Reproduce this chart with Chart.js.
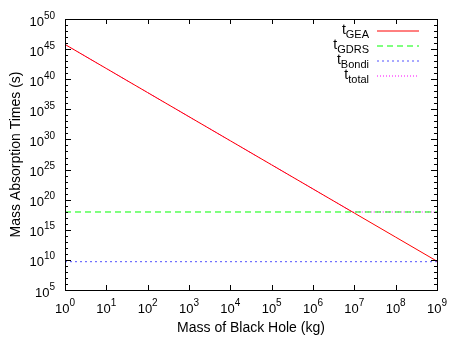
<!DOCTYPE html>
<html>
<head>
<meta charset="utf-8">
<script src="https://cdn.jsdelivr.net/npm/chart.js@4/dist/chart.umd.min.js"></script>
<style>
  body { margin: 0; background: #fff; }
  canvas { display: block; }
</style>
</head>
<body>
<canvas id="chart" width="450" height="338"></canvas>
<script>
// values (log-log)
const massKg = [1, 1e1, 1e2, 1e3, 1e4, 1e5, 1e6, 1e7, 1e8, 1e9];
const tGEA = [6e45, 6e41, 6e37, 6e33, 6e29, 6e25, 6e21, 6e17, 6e13, 6e9];
const flatMass = [1, 1e9];
const tGDRS = [9e17, 9e17];
const tBondi = [5e9, 5e9];
const totalMass = [1, 1e1, 1e2, 1e3, 1e4, 1e5, 1e6, 9e6, 1e7, 1e8, 1e9];
const tTotal = [6e45, 6e41, 6e37, 6e33, 6e29, 6e25, 6e21, 9e17, 9e17, 9e17, 9e17];
const seriesNames = ["GEA", "GDRS", "Bondi", "total"];

const xDecades = [0, 1, 2, 3, 4, 5, 6, 7, 8, 9];
const yExponents = [5, 10, 15, 20, 25, 30, 35, 40, 45, 50];

const lineColors = ["#ff0000", "#00ff00", "#5050ff", "#ff00ff"];
const lineDashes = [[], [6, 4], [2, 3], [1, 2]];

const FONT = "Liberation Sans, Arial, Helvetica, sans-serif";

function pts(xs, ys) {
  return xs.map((x, i) => ({ x: x, y: ys[i] }));
}

// "10" with a superscript exponent
function drawPow(ctx, exp, x, y, align) {
  ctx.font = "13px " + FONT;
  const wb = ctx.measureText("10").width;
  ctx.font = "10px " + FONT;
  const we = ctx.measureText(String(exp)).width;
  let x0 = x;
  if (align === "right") x0 = x - wb - we;
  if (align === "center") x0 = x - (wb + we) / 2;
  ctx.textAlign = "left";
  ctx.textBaseline = "alphabetic";
  ctx.font = "13px " + FONT;
  ctx.fillText("10", x0, y);
  ctx.font = "10px " + FONT;
  ctx.fillText(String(exp), x0 + wb, y - 7);
}

const framePlugin = {
  id: "frame",
  afterDraw(chart) {
    const { ctx, chartArea, scales } = chart;
    const { left, right, top, bottom } = chartArea;
    const xs = scales.x, ys = scales.y;
    ctx.save();
    ctx.strokeStyle = "#000";
    ctx.fillStyle = "#000";
    ctx.lineWidth = 1;
    ctx.strokeRect(left + 0.5, top + 0.5, right - left, bottom - top);

    // x ticks (inside, mirrored)
    ctx.beginPath();
    xDecades.forEach(d => {
      const px = Math.round(xs.getPixelForValue(Math.pow(10, d))) + 0.5;
      ctx.moveTo(px, bottom); ctx.lineTo(px, bottom - 5);
      ctx.moveTo(px, top); ctx.lineTo(px, top + 5);
    });
    // y ticks: major every 5 decades, minor each decade
    for (let e = 5; e <= 50; e++) {
      const py = Math.round(ys.getPixelForValue(Math.pow(10, e))) + 0.5;
      const len = e % 5 === 0 ? 6 : 3;
      ctx.moveTo(left, py); ctx.lineTo(left + len, py);
      ctx.moveTo(right, py); ctx.lineTo(right - len, py);
    }
    ctx.stroke();

    // tick labels
    xDecades.forEach(d => {
      const px = xs.getPixelForValue(Math.pow(10, d));
      drawPow(ctx, d, px, bottom + 23, "center");
    });
    yExponents.forEach(e => {
      const py = ys.getPixelForValue(Math.pow(10, e));
      drawPow(ctx, e, left - 10, py + 6.5, "right");
    });

    // axis titles
    ctx.font = "14px " + FONT;
    ctx.textAlign = "center";
    ctx.textBaseline = "alphabetic";
    ctx.fillText("Mass of Black Hole (kg)", (left + right) / 2, 332);
    ctx.save();
    ctx.translate(20, (top + bottom) / 2);
    ctx.rotate(-Math.PI / 2);
    ctx.fillText("Mass Absorption Times (s)", 0, 0);
    ctx.restore();

    // legend
    seriesNames.forEach((name, i) => {
      const yl = Math.round(31 + i * 15);
      const textRight = 369;
      ctx.fillStyle = "#000";
      ctx.textAlign = "left";
      ctx.font = "11px " + FONT;
      const ws = ctx.measureText(name).width;
      ctx.fillText(name, textRight - ws, yl + 7);
      ctx.font = "14px " + FONT;
      const wt = ctx.measureText("t").width;
      ctx.fillText("t", textRight - ws - wt, yl + 3);
      ctx.beginPath();
      ctx.strokeStyle = lineColors[i];
      ctx.setLineDash(lineDashes[i]);
      ctx.moveTo(377, yl);
      ctx.lineTo(419, yl);
      ctx.stroke();
      ctx.setLineDash([]);
    });
    ctx.restore();
  }
};

const sets = [pts(massKg, tGEA), pts(flatMass, tGDRS), pts(flatMass, tBondi), pts(totalMass, tTotal)];

new Chart(document.getElementById("chart"), {
  type: "scatter",
  data: {
    datasets: sets.map((d, i) => ({
      label: seriesNames[i],
      data: d,
      borderColor: lineColors[i],
      borderDash: lineDashes[i],
      showLine: true,
      borderWidth: 1,
      pointRadius: 0,
      tension: 0,
      fill: false,
    })),
  },
  options: {
    responsive: false,
    animation: false,
    layout: { padding: { top: 19, right: 13, left: 0, bottom: 0 } },
    plugins: { legend: { display: false }, tooltip: { enabled: false } },
    scales: {
      x: {
        type: "logarithmic",
        min: 1,
        max: 1e9,
        ticks: { display: false },
        grid: { display: false },
        border: { display: false },
        afterFit(s) { s.height = 48; },
      },
      y: {
        type: "logarithmic",
        min: 1e5,
        max: 1e50,
        ticks: { display: false },
        grid: { display: false },
        border: { display: false },
        afterFit(s) { s.width = 65; },
      },
    },
  },
  plugins: [framePlugin],
});
</script>
</body>
</html>
